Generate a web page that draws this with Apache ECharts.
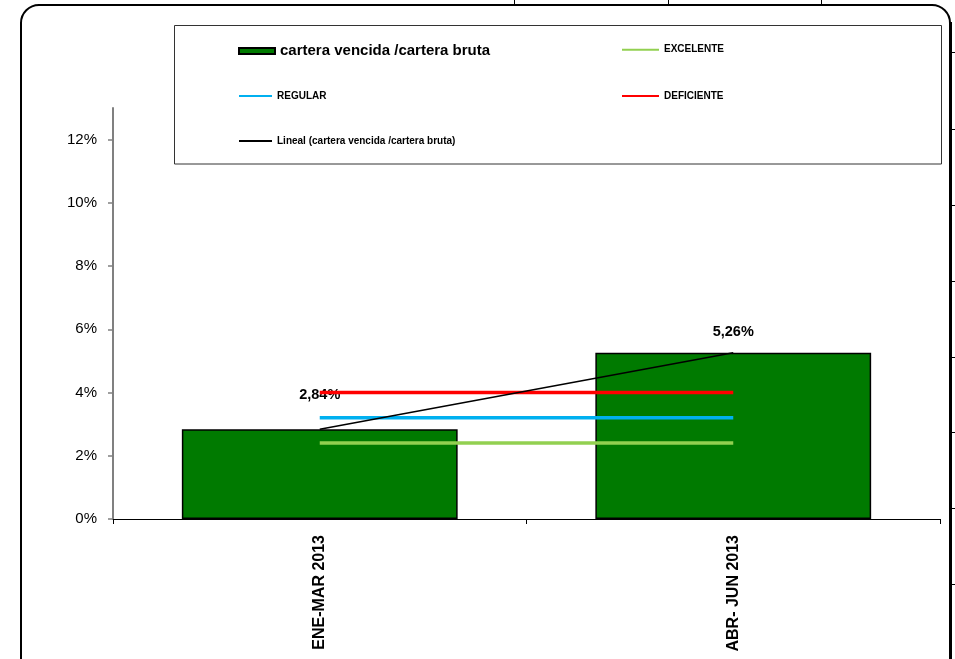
<!DOCTYPE html>
<html>
<head>
<meta charset="utf-8">
<script src="https://cdn.jsdelivr.net/npm/echarts@6/dist/echarts.min.js"></script>
<style>
html,body{margin:0;padding:0;background:#fff;}
#main{width:955px;height:659px;}
</style>
</head>
<body>
<div id="main"></div>
<script>
// ---- data ----
const categories = ['ENE-MAR 2013', 'ABR- JUN 2013'];
const carteraRatio = [2.84, 5.26];
const excelente = [2.4, 2.4];
const regular = [3.2, 3.2];
const deficiente = [4.0, 4.0];
const lineal = [2.84, 5.26];
const yTicks = [0, 2, 4, 6, 8, 10, 12];

const FONT = 'Liberation Sans, Arial, Helvetica, sans-serif';
const chart = echarts.init(document.getElementById('main'), null, {renderer: 'canvas'});

const fmtPct = v => v.toFixed(2).replace('.', ',') + '%';
const labelDistance = [27, 13];

const lineLegend = (name, left, centerY, w) => ({
  data: [{name: name, icon: 'rect'}],
  left: left, top: centerY - 4,
  padding: 0, itemGap: 0, selectedMode: false,
  itemWidth: w, itemHeight: 2,
  itemStyle: {borderWidth: 0},
  textStyle: {fontFamily: FONT, fontSize: 10, fontWeight: 'bold', color: '#000'}
});

const option = {
  animation: false,
  backgroundColor: '#fff',
  textStyle: {fontFamily: FONT},
  grid: {left: 113, right: 15, top: 108, bottom: 140, containLabel: false},
  legend: [
    {
      data: [{name: 'cartera vencida /cartera bruta', icon: 'rect'}],
      left: 238, top: 43.5, itemWidth: 36, itemHeight: 6,
      padding: 0, itemGap: 0, selectedMode: false,
      textStyle: {fontFamily: FONT, fontSize: 15, fontWeight: 'bold', color: '#000'}
    },
    lineLegend('EXCELENTE', 622, 48.7, 37),
    lineLegend('REGULAR', 239, 95, 33),
    lineLegend('DEFICIENTE', 622, 95, 37),
    lineLegend('Lineal (cartera vencida /cartera bruta)', 239, 140, 33)
  ],
  xAxis: {
    type: 'category',
    data: categories,
    boundaryGap: true,
    axisLine: {lineStyle: {color: '#000', width: 1}},
    axisTick: {show: true, length: 5, lineStyle: {color: '#000'}},
    axisLabel: {
      rotate: 90, margin: 16, interval: 0,
      fontFamily: FONT, fontSize: 16, fontWeight: 'bold', color: '#000'
    },
    splitLine: {show: false}
  },
  yAxis: {
    type: 'value',
    min: 0, max: 13, interval: 2,
    axisLine: {show: true, lineStyle: {color: '#808080', width: 2}},
    axisTick: {show: true, length: 5, customValues: yTicks, lineStyle: {color: '#808080', width: 1.5}},
    axisLabel: {
      customValues: yTicks,
      formatter: v => v + '%',
      margin: 16, fontFamily: FONT, fontSize: 15, color: '#000'
    },
    splitLine: {show: false}
  },
  series: [
    {
      name: 'cartera vencida /cartera bruta',
      type: 'bar',
      barCategoryGap: '33.3%',
      data: carteraRatio.map((v, i) => ({
        value: v,
        label: {distance: labelDistance[i]}
      })),
      itemStyle: {color: '#007A00', borderColor: '#000', borderWidth: 1.5},
      label: {
        show: true, position: 'top',
        formatter: p => fmtPct(p.value),
        fontFamily: FONT, fontSize: 14.5, fontWeight: 'bold', color: '#000'
      },
      z: 2
    },
    {
      name: 'EXCELENTE', type: 'line', data: excelente, symbol: 'none',
      lineStyle: {color: '#92D050', width: 3.5}, itemStyle: {color: '#92D050'}, z: 3
    },
    {
      name: 'REGULAR', type: 'line', data: regular, symbol: 'none',
      lineStyle: {color: '#00B0F0', width: 3.5}, itemStyle: {color: '#00B0F0'}, z: 3
    },
    {
      name: 'DEFICIENTE', type: 'line', data: deficiente, symbol: 'none',
      lineStyle: {color: '#FF0000', width: 3.5}, itemStyle: {color: '#FF0000'}, z: 3
    },
    {
      name: 'Lineal (cartera vencida /cartera bruta)', type: 'line', data: lineal, symbol: 'none',
      lineStyle: {color: '#000', width: 1.5}, itemStyle: {color: '#000'}, z: 4
    }
  ],
  graphic: [
    // outer rounded frame
    {type: 'rect', shape: {x: 21, y: 5, width: 929, height: 672, r: 18},
     style: {fill: null, stroke: '#000', lineWidth: 2}, silent: true, z: 10},
    {type: 'line', shape: {x1: 950.5, y1: 22, x2: 950.5, y2: 659},
     style: {stroke: '#000', lineWidth: 3}, silent: true, z: 10},
    // legend frame
    {type: 'rect', shape: {x: 174.5, y: 25.5, width: 767, height: 138.5},
     style: {fill: null, stroke: '#333', lineWidth: 1}, silent: true, z: 10},
    // background stubs from neighbouring table / chart
    {type: 'line', shape: {x1: 514.5, y1: 0, x2: 514.5, y2: 5}, style: {stroke: '#000', lineWidth: 1}, silent: true},
    {type: 'line', shape: {x1: 668.5, y1: 0, x2: 668.5, y2: 5}, style: {stroke: '#000', lineWidth: 1}, silent: true},
    {type: 'line', shape: {x1: 821.5, y1: 0, x2: 821.5, y2: 5}, style: {stroke: '#000', lineWidth: 1}, silent: true},
    {type: 'line', shape: {x1: 952, y1: 52.5, x2: 955, y2: 52.5}, style: {stroke: '#000', lineWidth: 1}, silent: true},
    {type: 'line', shape: {x1: 952, y1: 129.5, x2: 955, y2: 129.5}, style: {stroke: '#000', lineWidth: 1}, silent: true},
    {type: 'line', shape: {x1: 952, y1: 205.5, x2: 955, y2: 205.5}, style: {stroke: '#000', lineWidth: 1}, silent: true},
    {type: 'line', shape: {x1: 952, y1: 281.5, x2: 955, y2: 281.5}, style: {stroke: '#000', lineWidth: 1}, silent: true},
    {type: 'line', shape: {x1: 952, y1: 357.5, x2: 955, y2: 357.5}, style: {stroke: '#000', lineWidth: 1}, silent: true},
    {type: 'line', shape: {x1: 952, y1: 432.5, x2: 955, y2: 432.5}, style: {stroke: '#000', lineWidth: 1}, silent: true},
    {type: 'line', shape: {x1: 952, y1: 508.5, x2: 955, y2: 508.5}, style: {stroke: '#000', lineWidth: 1}, silent: true},
    {type: 'line', shape: {x1: 952, y1: 584.5, x2: 955, y2: 584.5}, style: {stroke: '#000', lineWidth: 1}, silent: true}
  ]
};
chart.setOption(option);
</script>
</body>
</html>
